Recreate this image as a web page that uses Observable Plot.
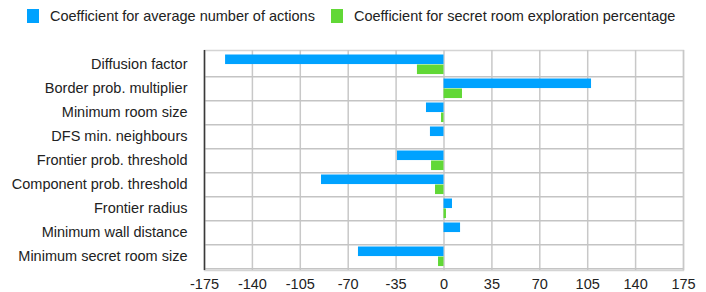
<!DOCTYPE html>
<html>
<head>
<meta charset="utf-8">
<script src="https://cdn.jsdelivr.net/npm/d3@7"></script>
<script src="https://cdn.jsdelivr.net/npm/@observablehq/plot@0.6"></script>
<style>
  body { margin: 0; background: #fff; font-family: "Liberation Sans", Arial, Helvetica, sans-serif; }
  #legend { position: relative; height: 34px; font-size: 14.5px; color: #222; }
  #legend .sw { position: absolute; top: 9px; width: 12px; height: 14px; }
  #legend .lb { position: absolute; top: 8px; line-height: 16px; white-space: nowrap; }
  svg { display: block; }
</style>
</head>
<body>
<div id="legend"></div>
<div id="chart"></div>
<script>
const parameters = [
  "Diffusion factor",
  "Border prob. multiplier",
  "Minimum room size",
  "DFS min. neighbours",
  "Frontier prob. threshold",
  "Component prob. threshold",
  "Frontier radius",
  "Minimum wall distance",
  "Minimum secret room size"
];
const actionsCoef = [-159.6, 107.8, -12.8, -9.9, -34, -89.5, 6.2, 12.1, -62.5];
const secretCoef  = [-19.4, 13.5, -1.8, 0, -9.1, -6.2, 1.8, 0, -4];
const seriesNames = ["Coefficient for average number of actions", "Coefficient for secret room exploration percentage"];
const seriesColors = ["#00a2ff", "#61d836"];
const xTicks = [-175, -140, -105, -70, -35, 0, 35, 70, 105, 140, 175];

// legend
const legend = document.getElementById("legend");
const legendPos = [[27, 50], [331, 354]];
seriesNames.forEach((name, i) => {
  const sw = document.createElement("div");
  sw.className = "sw";
  sw.style.left = legendPos[i][0] + "px";
  sw.style.background = seriesColors[i];
  legend.appendChild(sw);
  const lb = document.createElement("div");
  lb.className = "lb";
  lb.style.left = legendPos[i][1] + "px";
  lb.textContent = name;
  legend.appendChild(lb);
});

const actionsData = parameters.map((p, i) => ({param: p, value: actionsCoef[i]}));
const secretData = parameters.map((p, i) => ({param: p, value: secretCoef[i]}));

const height = 258, marginTop = 16, marginBottom = 22;
const band = (height - marginTop - marginBottom) / parameters.length;

const chart = Plot.plot({
  width: 706,
  height,
  marginLeft: 204,
  marginRight: 23,
  marginTop,
  marginBottom,
  style: { fontFamily: '"Liberation Sans", Arial, Helvetica, sans-serif', fontSize: "14.5px", color: "#222" },
  x: { domain: [xTicks[0], xTicks[xTicks.length - 1]], ticks: xTicks, tickSize: 0, tickPadding: 8, tickFormat: d => String(d), label: null },
  y: { domain: parameters, padding: 0, tickSize: 0, tickPadding: 17, label: null },
  marks: [
    Plot.frame({ stroke: "#d4d4d4", strokeWidth: 1.5 }),
    Plot.ruleX(xTicks, { stroke: "#c8c8c8", strokeWidth: 1.5 }),
    Plot.ruleY(parameters, { y: d => d, dy: band / 2, stroke: "#c4c4c4", strokeWidth: 1.5 }),
    Plot.barX(actionsData, { y: "param", x: "value", fill: seriesColors[0], insetTop: 2.5, insetBottom: band - 12.5 }),
    Plot.barX(secretData, { y: "param", x: "value", fill: seriesColors[1], insetTop: 12.5, insetBottom: band - 22.5 }),
    Plot.ruleX([xTicks[0]], { stroke: "#3a3a3a", strokeWidth: 1.5 }),
    Plot.axisX({ ticks: xTicks, tickSize: 0, tickPadding: 8, tickFormat: d => String(d), label: null }),
    Plot.axisY({ tickSize: 0, tickPadding: 17, label: null })
  ]
});
document.getElementById("chart").appendChild(chart);
</script>
</body>
</html>
